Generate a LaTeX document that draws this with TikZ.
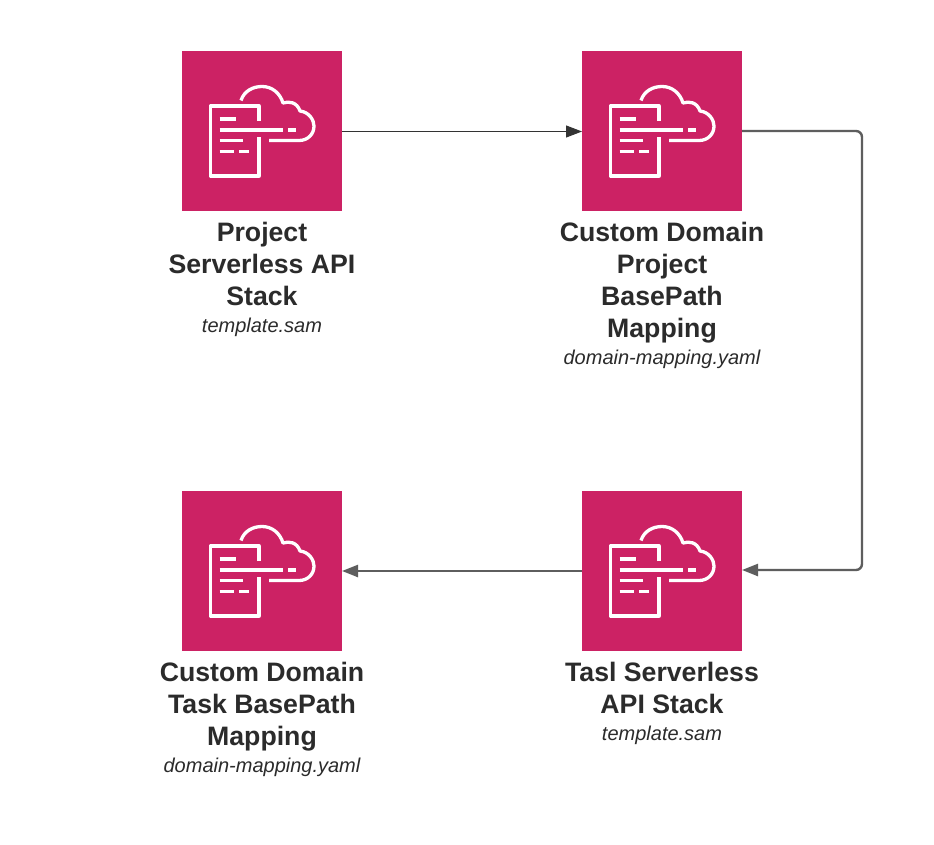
\documentclass[tikz,border=0pt]{standalone}
\usepackage{fontspec}
\setmainfont{Liberation Sans}
\usetikzlibrary{arrows.meta}
\definecolor{awspink}{HTML}{CC2264}
\definecolor{txt}{HTML}{2B2B2B}
\definecolor{thinline}{HTML}{333333}
\definecolor{thickline}{HTML}{5E5E5E}
\tikzset{
  stackbox/.style={fill=awspink,draw=none,minimum width=160pt,minimum height=160pt,inner sep=0pt,outer sep=0pt},
  caption/.style={anchor=north,align=center,text=txt,inner sep=0pt,outer sep=0pt,font=\fontsize{26.67}{32}\selectfont\bfseries},
  thinarrow/.style={draw=thinline,line width=1pt,-{Triangle[length=16pt,width=12pt]}},
  thickarrow/.style={draw=thickline,line width=2.4pt,-{Triangle[length=16pt,width=12pt]}},
  iconline/.style={draw=white,line width=3.3pt,line cap=butt,line join=round},
  pics/stackicon/.style={code={
    % document outline
    \draw[iconline] (77,-70) -- (77,-55) -- (28.5,-55) -- (28.5,-125) -- (77,-125) -- (77,-86);
    % text lines
    \draw[iconline] (37.5,-68) -- (54,-68);
    \draw[iconline] (37.5,-79) -- (101,-79);
    \draw[iconline] (106,-79) -- (114,-79);
    \draw[iconline] (37.5,-89.5) -- (61,-89.5);
    \draw[iconline] (37.5,-100.5) -- (52,-100.5);
    \draw[iconline] (57,-100.5) -- (67,-100.5);
    % cloud
    \draw[iconline] (59,-49.5) .. controls (62,-40) and (71,-35.5) .. (80,-35.5)
      .. controls (90,-35.5) and (98,-42) .. (101,-52)
      .. controls (107,-50) and (115,-51) .. (118,-60)
      .. controls (127,-61) and (132,-69) .. (132,-75)
      .. controls (132,-83) and (126,-89.5) .. (117,-89.5)
      -- (87,-89.5);
  }}
}
\begin{document}
\begin{tikzpicture}[x=1pt,y=1pt]
\useasboundingbox (0,0) rectangle (934,-845);
\fill[white] (0,0) rectangle (934,-845);
\node[stackbox] (b1) at (262,-131) {};
\node[stackbox] (b2) at (662,-131) {};
\node[stackbox] (b3) at (662,-571) {};
\node[stackbox] (b4) at (262,-571) {};
\pic at (b1.north west) {stackicon};
\pic at (b2.north west) {stackicon};
\pic at (b3.north west) {stackicon};
\pic at (b4.north west) {stackicon};
\node[caption] (t1) at (262,-222.5) {Project\\Serverless API\\Stack\\[-5pt]{\fontsize{20}{24}\selectfont\mdseries\itshape template.sam}};
\node[caption] (t2) at (662,-222.5) {Custom Domain\\Project\\BasePath\\Mapping\\[-5pt]{\fontsize{20}{24}\selectfont\mdseries\itshape domain-mapping.yaml}};
\node[caption] (t3) at (662,-662.5) {Tasl Serverless\\API Stack\\[-5pt]{\fontsize{20}{24}\selectfont\mdseries\itshape template.sam}};
\node[caption] (t4) at (262,-662.5) {Custom Domain\\Task BasePath\\Mapping\\[-5pt]{\fontsize{20}{24}\selectfont\mdseries\itshape domain-mapping.yaml}};
\coordinate (c1) at (862,-131);
\coordinate (c2) at (862,-570);
\draw[thinarrow] ([yshift=-0.5pt]b1.east) -- ([yshift=-0.5pt]b2.west);
\draw[thickarrow,rounded corners=6pt] (b2.east) -- (c1) -- (c2) -- (b3.east |- c2);
\draw[thickarrow] (b3.west) -- (b4.east);
\end{tikzpicture}
\end{document}
